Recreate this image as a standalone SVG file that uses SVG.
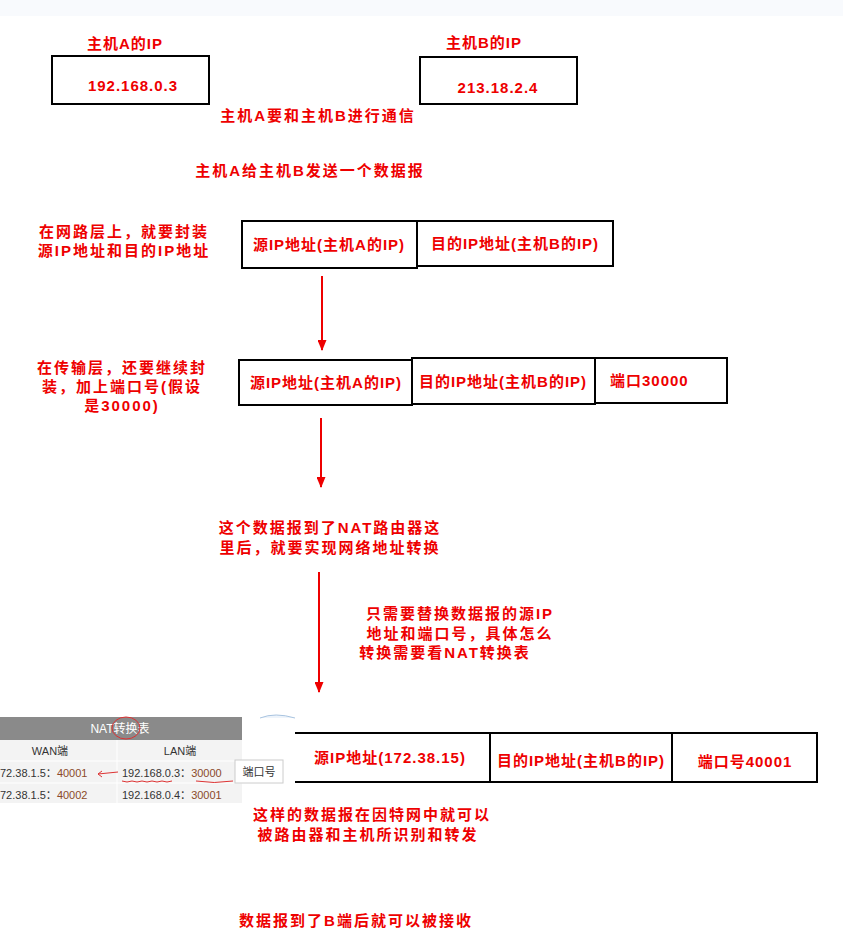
<svg xmlns="http://www.w3.org/2000/svg" width="843" height="950" viewBox="0 0 843 950">
<style>
.t{font-family:"Liberation Sans","Noto Sans CJK SC",sans-serif;font-size:15px;fill:#e00;font-weight:bold;letter-spacing:1px}
#notes text{letter-spacing:2px}
.b{fill:none;stroke:#000;stroke-width:2}
.n{font-family:"Liberation Sans","Noto Sans CJK SC",sans-serif;font-size:11px;fill:#333}
.o{fill:#8b4a2a}
.c{stroke:#e00;stroke-width:2;fill:none}
</style>
<defs><marker id="ah" markerWidth="11" markerHeight="9" refX="10" refY="4.5" orient="auto" markerUnits="userSpaceOnUse"><path d="M0,0 L11,4.5 L0,9 Z" fill="#e00"/></marker></defs>
<rect x="0" y="0" width="843" height="16" fill="#f8fafd"/>
<g id="hostA"><text class="t" x="125" y="49" text-anchor="middle">主机A的IP</text><rect class="b" x="52" y="56" width="157" height="48"/><text class="t" x="133" y="91" text-anchor="middle">192.168.0.3</text></g>
<g id="hostB"><text class="t" x="484" y="48" text-anchor="middle">主机B的IP</text><rect class="b" x="420" y="57" width="157" height="47"/><text class="t" x="498" y="93" text-anchor="middle">213.18.2.4</text></g>
<g id="notes" class="t">
<text x="318" y="121" text-anchor="middle">主机A要和主机B进行通信</text>
<text x="310" y="176" text-anchor="middle">主机A给主机B发送一个数据报</text>
<text x="124" y="237" text-anchor="middle">在网路层上，就要封装</text>
<text x="124" y="256" text-anchor="middle">源IP地址和目的IP地址</text>
<text x="122" y="373" text-anchor="middle">在传输层，还要继续封</text>
<text x="122" y="392" text-anchor="middle">装，加上端口号(假设</text>
<text x="122" y="411" text-anchor="middle">是30000)</text>
<text x="330" y="533" text-anchor="middle">这个数据报到了NAT路由器这</text>
<text x="330" y="553" text-anchor="middle">里后，就要实现网络地址转换</text>
<text x="460" y="619" text-anchor="middle">只需要替换数据报的源IP</text>
<text x="460" y="639" text-anchor="middle">地址和端口号，具体怎么</text>
<text x="445" y="658" text-anchor="middle">转换需要看NAT转换表</text>
<text x="372" y="820" text-anchor="middle">这样的数据报在因特网中就可以</text>
<text x="368" y="840" text-anchor="middle">被路由器和主机所识别和转发</text>
<text x="356" y="926" text-anchor="middle">数据报到了B端后就可以被接收</text>
</g>
<g id="row1"><rect class="b" x="242" y="221" width="175" height="47"/><text class="t" x="329" y="250" text-anchor="middle">源IP地址(主机A的IP)</text><rect class="b" x="417" y="221" width="196" height="45"/><text class="t" x="515" y="249" text-anchor="middle">目的IP地址(主机B的IP)</text></g>
<g id="row2"><rect class="b" x="239" y="360" width="173" height="45"/><text class="t" x="326" y="388" text-anchor="middle">源IP地址(主机A的IP)</text><rect class="b" x="412" y="358" width="183" height="46"/><text class="t" x="503" y="387" text-anchor="middle">目的IP地址(主机B的IP)</text><rect class="b" x="595" y="358" width="132" height="45"/><text class="t" x="610" y="386">端口30000</text></g>
<g id="row3"><rect class="b" x="290" y="733" width="200" height="49"/><text class="t" x="390" y="763" text-anchor="middle">源IP地址(172.38.15)</text><rect class="b" x="490" y="733" width="182" height="49"/><text class="t" x="581" y="766" text-anchor="middle">目的IP地址(主机B的IP)</text><rect class="b" x="672" y="733" width="145" height="49"/><text class="t" x="745" y="767" text-anchor="middle">端口号40001</text></g>
<g id="nat">
<rect x="0" y="715" width="295" height="88" fill="#fff"/>
<path d="M260,718 Q275,712 295,718" stroke="#a9c4e0" fill="#eef4fb"/>
<rect x="0" y="717" width="242" height="23" fill="#8a8a8a"/>
<text x="120" y="733" text-anchor="middle" font-family="Liberation Sans,Noto Sans CJK SC,sans-serif" font-size="12" fill="#fff">NAT转换表</text>
<ellipse cx="126" cy="728" rx="14" ry="11" fill="none" stroke="#d33" stroke-width="1"/>
<rect x="0" y="740" width="242" height="63" fill="#f3f3f3"/>
<line x1="0" y1="761" x2="242" y2="761" stroke="#fff"/><line x1="0" y1="783" x2="242" y2="783" stroke="#fff"/><line x1="117" y1="740" x2="117" y2="803" stroke="#fff"/>
<text class="n" x="50" y="755" text-anchor="middle">WAN端</text><text class="n" x="180" y="755" text-anchor="middle">LAN端</text>
<text class="n" x="0" y="777">72.38.1.5：<tspan class="o">40001</tspan></text>
<text class="n" x="122" y="777">192.168.0.3：<tspan class="o">30000</tspan></text>
<text class="n" x="0" y="799">72.38.1.5：<tspan class="o">40002</tspan></text>
<text class="n" x="122" y="799">192.168.0.4：<tspan class="o">30001</tspan></text>
<path d="M118,772 L98,774 M102,771 L98,774 L102,777" stroke="#d33" fill="none"/>
<path d="M122,781 q5,2 10,0 q5,2 10,0 q5,2 10,0 q5,2 10,0 q5,2 10,0" stroke="#d33" fill="none"/>
<path d="M196,781 q18,3 37,0" stroke="#d33" fill="none"/>
<rect x="235" y="760" width="48" height="23" fill="#fff" stroke="#ccc"/>
<text class="n" x="259" y="776" text-anchor="middle">端口号</text>
</g>
<g id="connectors">
<line class="c" x1="322" y1="276" x2="322" y2="350" marker-end="url(#ah)"/>
<line class="c" x1="321" y1="418" x2="321" y2="487" marker-end="url(#ah)"/>
<line class="c" x1="319" y1="572" x2="319" y2="692" marker-end="url(#ah)"/>
</g>
</svg>
